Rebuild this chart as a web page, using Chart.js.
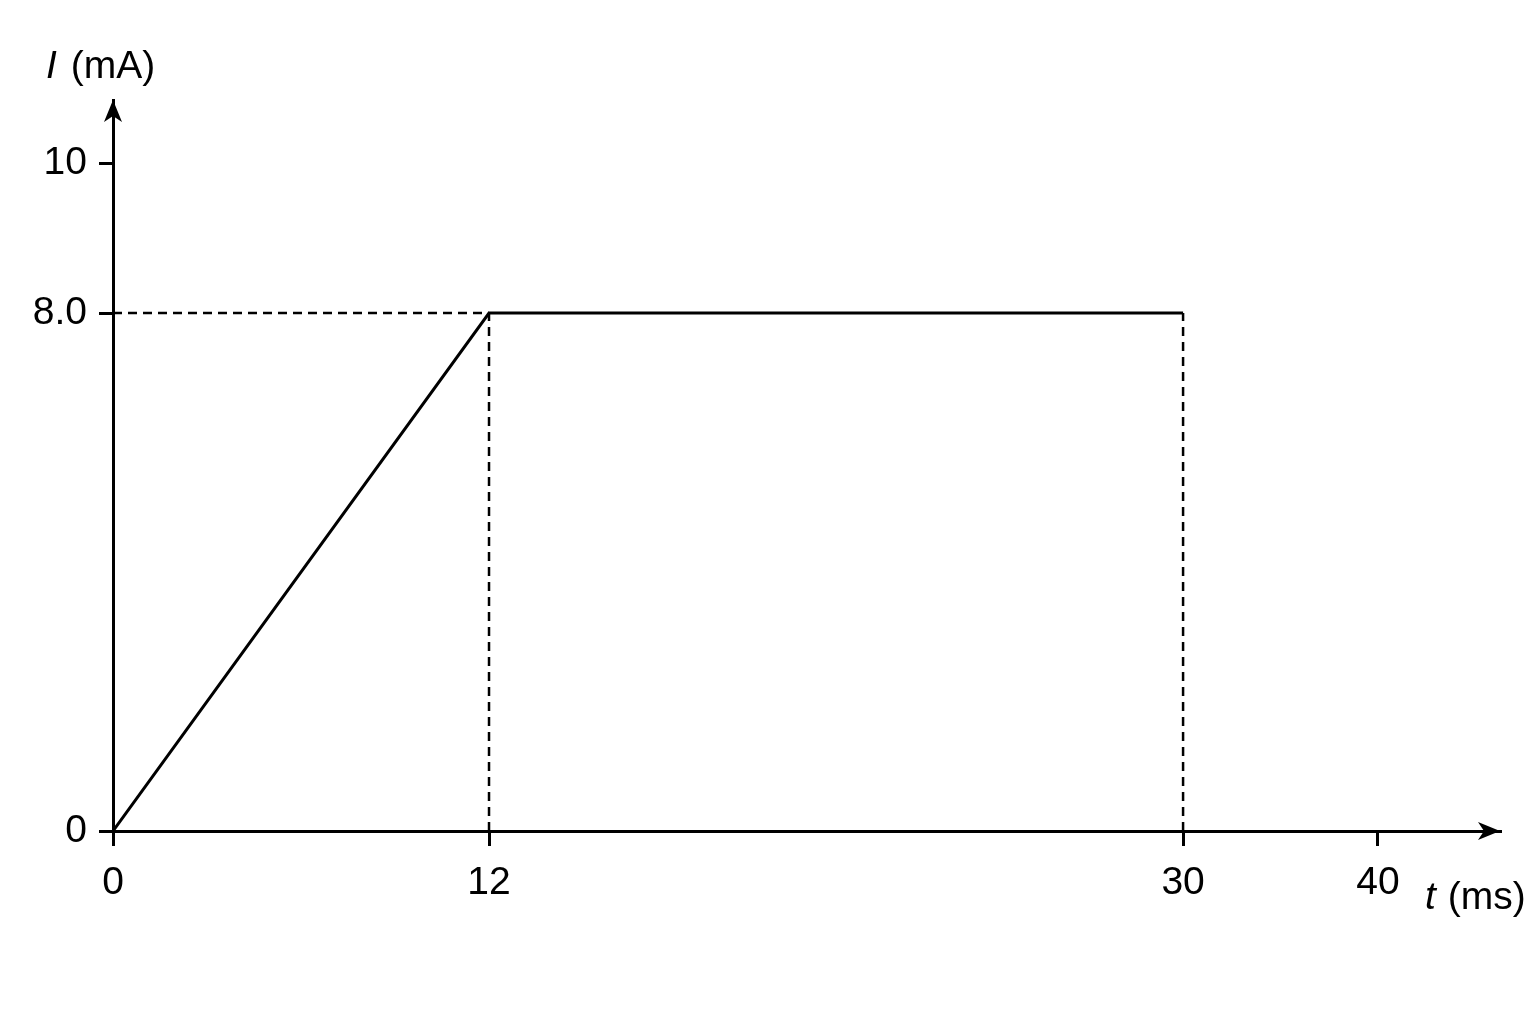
<!DOCTYPE html>
<html>
<head>
<meta charset="utf-8">
<script src="https://cdn.jsdelivr.net/npm/chart.js@4.4.1/dist/chart.umd.min.js"></script>
<style>
  html, body { margin: 0; background: #fff; }
</style>
</head>
<body>
<canvas id="myChart" width="1536" height="1024"></canvas>
<script>
// current through the coil: ramps up, then holds
var timeMs = [0, 12, 30];
var currentMA = [0, 8.0, 8.0];

// dashed guide lines
var levelGuideTime = [0, 12];
var levelGuideCurrent = [8.0, 8.0];
var dropTimes = [12, 30];
var dropCurrent = [0, 8.0];

// ticks
var xTickValues = [0, 12, 30, 40];
var xTickLabels = ['0', '12', '30', '40'];
var yTickValues = [0, 8, 10];
var yTickLabels = ['0', '8.0', '10'];

// the sketch is not drawn to scale, so each axis is cut into linear pieces
// [value, fraction of axis length]
var axisBreaks = {
    x: [[0, 0], [12, 0.2711], [30, 0.7715], [40, 0.912], [46, 1]],
    y: [[0, 0], [8, 0.7086], [10, 0.9138], [11, 1]]
};

class PiecewiseScale extends Chart.LinearScale {
    toDecimal(v) {
        var b = axisBreaks[this.id];
        var i = 1;
        while (i < b.length - 1 && v > b[i][0]) i++;
        var v0 = b[i - 1][0], d0 = b[i - 1][1], v1 = b[i][0], d1 = b[i][1];
        return d0 + (v - v0) * (d1 - d0) / (v1 - v0);
    }
    fromDecimal(d) {
        var b = axisBreaks[this.id];
        var i = 1;
        while (i < b.length - 1 && d > b[i][1]) i++;
        var v0 = b[i - 1][0], d0 = b[i - 1][1], v1 = b[i][0], d1 = b[i][1];
        return v0 + (d - d0) * (v1 - v0) / (d1 - d0);
    }
    getPixelForValue(value) {
        if (value === null || value === undefined) return NaN;
        return this.getPixelForDecimal(this.toDecimal(value));
    }
    getValueForPixel(pixel) {
        return this.fromDecimal(this.getDecimalForPixel(pixel));
    }
}
PiecewiseScale.id = 'piecewise';
PiecewiseScale.defaults = Chart.LinearScale.defaults;
Chart.register(PiecewiseScale);

function points(xs, ys) {
    return xs.map(function (x, i) { return { x: x, y: ys[i] }; });
}

var lineStyle = {
    borderColor: '#000',
    borderWidth: 3,
    pointRadius: 0,
    fill: false,
    tension: 0
};
var dashStyle = Object.assign({}, lineStyle, { borderWidth: 2.5, borderDash: [9, 6] });

var datasets = [
    Object.assign({ data: points(timeMs, currentMA) }, lineStyle),
    Object.assign({ data: points(levelGuideTime, levelGuideCurrent) }, dashStyle)
];
dropTimes.forEach(function (t) {
    datasets.push(Object.assign({ data: points([t, t], dropCurrent) }, dashStyle));
});

var FONT = '"Liberation Sans", Arial, sans-serif';

// arrow heads and the two axis titles
var axisDecor = {
    id: 'axisDecor',
    afterDraw: function (chart) {
        var ctx = chart.ctx, a = chart.chartArea;
        ctx.save();
        ctx.fillStyle = '#000';

        ctx.beginPath();
        ctx.moveTo(a.left, a.top);
        ctx.lineTo(a.left - 9, a.top + 22);
        ctx.lineTo(a.left, a.top + 16);
        ctx.lineTo(a.left + 9, a.top + 22);
        ctx.closePath();
        ctx.fill();

        ctx.beginPath();
        ctx.moveTo(a.right, a.bottom);
        ctx.lineTo(a.right - 22, a.bottom - 9);
        ctx.lineTo(a.right - 16, a.bottom);
        ctx.lineTo(a.right - 22, a.bottom + 9);
        ctx.closePath();
        ctx.fill();

        ctx.textBaseline = 'alphabetic';
        ctx.textAlign = 'left';

        var x = a.left - 67, y = a.top - 22;
        ctx.font = 'italic 39px ' + FONT;
        ctx.fillText('I', x, y);
        x += ctx.measureText('I').width + 14;
        ctx.font = '39px ' + FONT;
        ctx.fillText('(mA)', x, y);

        x = a.right - 75; y = a.bottom + 78;
        ctx.font = 'italic 39px ' + FONT;
        ctx.fillText('t', x, y);
        x += ctx.measureText('t').width + 12;
        ctx.font = '39px ' + FONT;
        ctx.fillText('(ms)', x, y);

        ctx.restore();
    }
};

var ctx = document.getElementById('myChart').getContext('2d');
var chart = new Chart(ctx, {
    type: 'line',
    data: { datasets: datasets },
    plugins: [axisDecor],
    options: {
        responsive: false,
        devicePixelRatio: 1,
        animation: false,
        layout: { padding: { top: 100, right: 36, left: 0, bottom: 0 } },
        plugins: { legend: { display: false }, tooltip: { enabled: false } },
        scales: {
            x: {
                type: 'piecewise',
                min: 0,
                max: 46,
                afterFit: function (s) { s.height = 193; },
                afterBuildTicks: function (s) {
                    s.ticks = xTickValues.map(function (v) { return { value: v }; });
                },
                border: { display: true, color: '#000', width: 3 },
                grid: { drawOnChartArea: false, drawTicks: true, tickLength: 15, color: '#000', lineWidth: 3 },
                ticks: {
                    autoSkip: false,
                    maxRotation: 0,
                    padding: 14,
                    color: '#000',
                    font: { family: FONT, size: 39 },
                    callback: function (v) { return xTickLabels[xTickValues.indexOf(v)]; }
                }
            },
            y: {
                type: 'piecewise',
                min: 0,
                max: 11,
                afterFit: function (s) { s.width = 113; },
                afterBuildTicks: function (s) {
                    s.ticks = yTickValues.map(function (v) { return { value: v }; });
                },
                border: { display: true, color: '#000', width: 3 },
                grid: { drawOnChartArea: false, drawTicks: true, tickLength: 14, color: '#000', lineWidth: 3 },
                ticks: {
                    autoSkip: false,
                    padding: 12,
                    color: '#000',
                    font: { family: FONT, size: 39 },
                    callback: function (v) { return yTickLabels[yTickValues.indexOf(v)]; }
                }
            }
        }
    }
});
</script>
</body>
</html>
